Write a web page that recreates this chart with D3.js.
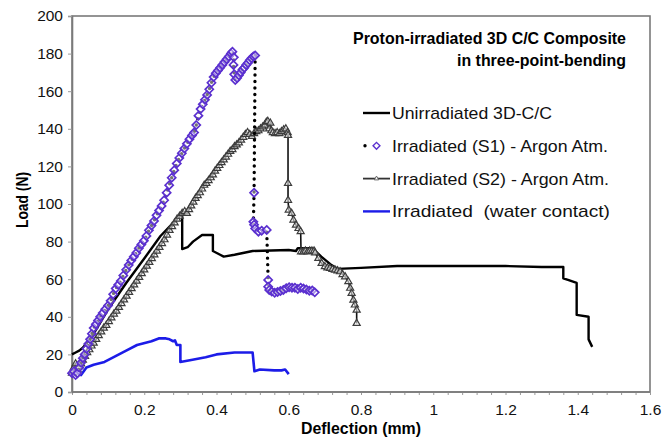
<!DOCTYPE html>
<html>
<head>
<meta charset="utf-8">
<script src="https://cdn.jsdelivr.net/npm/d3@7"></script>
<style>
  body { margin: 0; background: #fff; }
  text { font-family: "Liberation Sans", Arial, sans-serif; }
</style>
</head>
<body>
<div id="chart"></div>
<script>
// deflection (mm), load (N)
var unirradiated = [[0,20],[0.01,21],[0.02,22],[0.03,23.5],[0.045,27],[0.06,31],[0.1,44],[0.15,58],[0.2,71],[0.245,83],[0.28,90],[0.3,94],[0.305,96],
  [0.305,76],[0.32,77],[0.335,80],[0.36,83.5],[0.39,83.5],[0.39,75],[0.41,73],[0.42,72],[0.45,73],[0.5,75],[0.6,75.5],[0.62,75],[0.625,76.5],
  [0.665,76.5],[0.69,72],[0.715,68],[0.735,65.5],[0.8,66],[0.9,67],[1.0,67],[1.1,67],[1.2,67],[1.3,66.5],[1.36,66.5],[1.36,60.5],[1.375,59.5],
  [1.397,58],[1.397,41],[1.43,40],[1.43,28],[1.44,24]];

var irradiatedS1 = [[0,10],[0.005,11],[0.01,9],[0.015,10],[0.02,13],[0.025,15.5],[0.03,18],[0.035,20],[0.04,23],[0.045,25.5],[0.05,28],[0.055,31],
  [0.06,34],[0.066,36],[0.072,38],[0.078,40],[0.085,42],[0.092,44],[0.1,46],[0.107,48.5],[0.114,52],[0.121,55],[0.128,57],[0.135,59],[0.142,62],
  [0.15,65],[0.157,67.5],[0.164,70],[0.171,72],[0.178,74],[0.185,76.5],[0.192,78.5],[0.199,80.5],[0.206,83],[0.213,86],[0.22,88.5],[0.227,91],
  [0.234,94],[0.241,96.5],[0.248,99],[0.255,102],[0.262,106],[0.269,110],[0.276,114],[0.283,118],[0.29,121.5],[0.297,124.5],[0.304,127],
  [0.311,129.5],[0.318,132],[0.325,134.5],[0.332,136.5],[0.338,138],[0.344,142],[0.35,147],[0.356,150.5],[0.362,153],[0.368,155.5],[0.374,158],
  [0.38,161],[0.386,164.5],[0.392,167.5],[0.398,169.5],[0.404,171],[0.41,172.5],[0.416,174],[0.422,175.5],[0.428,177],[0.434,178.5],[0.44,180],
  [0.444,181],[0.448,178],[0.447,174],[0.449,169],[0.452,166],[0.457,167],[0.462,168.5],[0.467,170],[0.472,171.5],[0.477,172.5],[0.482,174],
  [0.487,175],[0.492,176.5],[0.497,177.5],[0.502,178.5],[0.507,179],[0.504,106],[0.502,90.5],[0.504,89],[0.507,87],[0.516,85.3],[0.525,85.8],
  [0.539,86.2],[0.543,59.6],[0.543,56],[0.546,54.3],[0.553,53.4],[0.561,52.8],[0.569,53.2],[0.577,53.7],[0.585,54.3],[0.593,55.2],[0.601,55.7],
  [0.609,55.5],[0.617,55.5],[0.625,54.8],[0.633,55.5],[0.641,55],[0.649,54.5],[0.657,53.9],[0.665,54],[0.672,53]];

var irradiatedS2 = [[0,10],[0.005,13],[0.01,15],[0.015,12],[0.02,13.5],[0.025,15],[0.03,17],[0.036,19],[0.042,21],[0.048,22.5],[0.054,24.5],
  [0.06,26],[0.067,28],[0.074,30],[0.081,32],[0.088,34],[0.095,35.5],[0.102,37.5],[0.109,39.5],[0.116,41.5],[0.123,43],[0.13,45],[0.137,47],
  [0.144,49],[0.151,51],[0.158,53],[0.165,55],[0.172,57],[0.179,59],[0.186,61],[0.193,63],[0.2,65],[0.207,67],[0.214,69],[0.221,71],[0.228,73],
  [0.235,75],[0.242,77],[0.249,79],[0.256,81],[0.263,83.5],[0.27,86],[0.277,88],[0.284,90],[0.291,92],[0.298,93.5],[0.305,95],[0.312,96],
  [0.318,95],[0.324,97],[0.33,99],[0.336,101],[0.342,103],[0.348,104.5],[0.354,106],[0.36,108],[0.366,110],[0.372,111],[0.378,112.5],[0.384,114],
  [0.39,115.5],[0.396,117.5],[0.402,119],[0.408,120.5],[0.414,122],[0.42,123.5],[0.426,125],[0.432,126.5],[0.438,128],[0.444,129],[0.45,130.5],
  [0.456,131.5],[0.462,132.5],[0.468,134],[0.474,135.5],[0.48,137],[0.486,138],[0.492,137],[0.498,136],[0.504,137.5],[0.51,138.5],[0.516,139],
  [0.522,140],[0.528,141],[0.534,142],[0.538,143.5],[0.542,144],[0.546,140],[0.549,143],[0.552,139],[0.556,138],[0.562,137.5],[0.568,138],
  [0.574,137.5],[0.58,138.5],[0.586,139.5],[0.592,140],[0.597,138],[0.598,136.5],[0.598,111],[0.598,102],[0.6,96.8],[0.608,95],[0.613,91.5],
  [0.62,88.8],[0.627,87],[0.633,85.3],[0.634,74.6],[0.64,74.5],[0.646,75],[0.652,74.5],[0.658,75],[0.664,75],[0.67,75],[0.673,74],[0.682,71.1],
  [0.691,68.4],[0.7,66.7],[0.707,66],[0.714,65.8],[0.721,65.3],[0.728,64.9],[0.735,64.5],[0.742,64],[0.749,62.5],[0.756,61.3],[0.765,58.7],
  [0.77,55.2],[0.774,52.5],[0.779,48.9],[0.783,46.3],[0.788,43.6],[0.788,36.5]];

var waterContact = [[0,11],[0.01,10],[0.025,9],[0.04,13],[0.06,14.5],[0.09,16],[0.13,20],[0.15,22],[0.18,25],[0.22,27],[0.24,28.5],[0.26,28.5],
  [0.27,28],[0.28,27],[0.285,27.5],[0.29,25],[0.3,25],[0.3,16],[0.33,17],[0.37,18.5],[0.4,20],[0.45,21],[0.5,21],[0.505,11],[0.52,12],
  [0.56,11.5],[0.58,11.5],[0.59,12],[0.6,9.5]];

var xTicks = [0, 0.2, 0.4, 0.6, 0.8, 1, 1.2, 1.4, 1.6];
var yTicks = [0, 20, 40, 60, 80, 100, 120, 140, 160, 180, 200];
var legendLabels = ["Unirradiated 3D-C/C", "Irradiated (S1) - Argon Atm.", "Irradiated (S2) - Argon Atm.", "Irradiated  (water contact)"];
var titleLines = ["Proton-irradiated 3D C/C Composite", "in three-point-bending"];

var width = 672, height = 443;
var svg = d3.select("#chart").append("svg")
    .attr("width", width)
    .attr("height", height);

var x = d3.scaleLinear().domain([0, 1.6]).range([72, 650]);
var y = d3.scaleLinear().domain([0, 200]).range([392, 16]);

// plot frame
svg.append("rect")
    .attr("x", x(0)).attr("y", y(200))
    .attr("width", x(1.6) - x(0)).attr("height", y(0) - y(200))
    .attr("fill", "none").attr("stroke", "#7a7a7a").attr("stroke-width", 1.6);

// minor ticks on x axis
var xAxis = svg.append("g")
    .attr("transform", "translate(0," + y(0) + ")")
    .call(d3.axisBottom(x).tickValues(d3.range(0, 41).map(function(i) { return i * 0.04; })).tickSize(3).tickFormat(""));
xAxis.select(".domain").remove();
xAxis.selectAll(".tick line").attr("stroke", "#9a9a9a");

var xLabels = svg.append("g")
    .attr("transform", "translate(0," + y(0) + ")")
    .call(d3.axisBottom(x).tickValues(xTicks).tickSize(0).tickPadding(12).tickFormat(function(d) { return String(d); }));
xLabels.select(".domain").remove();
xLabels.selectAll("text").style("font-size", "15.5px").style("font-family", "Liberation Sans, Arial, sans-serif").attr("fill", "#111");

var yAxis = svg.append("g")
    .attr("transform", "translate(" + x(0) + ",0)")
    .call(d3.axisLeft(y).tickValues(yTicks).tickSize(4).tickPadding(5));
yAxis.select(".domain").attr("stroke", "#7a7a7a").attr("stroke-width", 1.6);
yAxis.selectAll(".tick line").attr("stroke", "#9a9a9a");
yAxis.selectAll("text").style("font-size", "15.5px").style("font-family", "Liberation Sans, Arial, sans-serif").attr("fill", "#111");

svg.append("line")
    .attr("x1", x(0)).attr("x2", x(1.6)).attr("y1", y(0)).attr("y2", y(0))
    .attr("stroke", "#7a7a7a").attr("stroke-width", 1.6);

// axis titles
svg.append("text")
    .attr("x", (x(0) + x(1.6)) / 2).attr("y", 434)
    .attr("text-anchor", "middle")
    .attr("textLength", 120).attr("lengthAdjust", "spacingAndGlyphs")
    .style("font-size", "17px").style("font-weight", "bold")
    .text("Deflection (mm)");

svg.append("text")
    .attr("transform", "translate(28,200) rotate(-90)")
    .attr("text-anchor", "middle")
    .attr("textLength", 56).attr("lengthAdjust", "spacingAndGlyphs")
    .style("font-size", "17px").style("font-weight", "bold")
    .text("Load (N)");

var line = d3.line()
    .x(function(d) { return x(d[0]); })
    .y(function(d) { return y(d[1]); });

var purple = "#5b30cf", blue = "#1c1ce8";

// water contact
svg.append("path").datum(waterContact)
    .attr("d", line).attr("fill", "none")
    .attr("stroke", blue).attr("stroke-width", 2.6).attr("stroke-linejoin", "round");

// unirradiated
svg.append("path").datum(unirradiated)
    .attr("d", line).attr("fill", "none")
    .attr("stroke", "#000").attr("stroke-width", 2.4).attr("stroke-linejoin", "round");

// S2
svg.append("path").datum(irradiatedS2)
    .attr("d", line).attr("fill", "none")
    .attr("stroke", "#111").attr("stroke-width", 1.6);
svg.selectAll(".tri").data(irradiatedS2).enter().append("path")
    .attr("class", "tri")
    .attr("transform", function(d) { return "translate(" + x(d[0]) + "," + y(d[1]) + ")"; })
    .attr("d", d3.symbol().type(d3.symbolTriangle2).size(36))
    .attr("fill", "#fff").attr("fill-opacity", 0.55).attr("stroke", "#3c3c3c").attr("stroke-width", 1.2);

// S1
svg.append("path").datum(irradiatedS1)
    .attr("d", line).attr("fill", "none")
    .attr("stroke", "#000").attr("stroke-width", 3.4)
    .attr("stroke-linecap", "round").attr("stroke-dasharray", "0,6.5");
svg.selectAll(".dia").data(irradiatedS1).enter().append("path")
    .attr("class", "dia")
    .attr("transform", function(d) { return "translate(" + x(d[0]) + "," + y(d[1]) + ")"; })
    .attr("d", d3.symbol().type(d3.symbolDiamond2).size(42))
    .attr("fill", "#fff").attr("fill-opacity", 0.45).attr("stroke", purple).attr("stroke-width", 1.7);

// title
svg.selectAll(".title").data(titleLines).enter().append("text")
    .attr("x", 626).attr("y", function(d, i) { return 44 + i * 22; })
    .attr("text-anchor", "end")
    .attr("textLength", function(d, i) { return i === 0 ? 273 : 169; })
    .attr("lengthAdjust", "spacingAndGlyphs")
    .style("font-size", "17px").style("font-weight", "bold")
    .text(function(d) { return d; });

// legend
var legend = svg.append("g");
var ly = function(i) { return 113 + i * 32.8; };
legend.selectAll("text").data(legendLabels).enter().append("text")
    .attr("x", 392).attr("y", function(d, i) { return ly(i) + 6; })
    .attr("textLength", function(d, i) { return [160, 216, 217, 218][i]; })
    .attr("lengthAdjust", "spacingAndGlyphs")
    .style("white-space", "pre")
    .style("font-size", "17px").attr("fill", "#111")
    .text(function(d) { return d; });

legend.append("line").attr("x1", 363).attr("x2", 390).attr("y1", ly(0)).attr("y2", ly(0))
    .attr("stroke", "#000").attr("stroke-width", 2.4);
legend.append("line").attr("x1", 365).attr("x2", 388).attr("y1", ly(1)).attr("y2", ly(1))
    .attr("stroke", "#000").attr("stroke-width", 3.4)
    .attr("stroke-linecap", "round").attr("stroke-dasharray", "0,11.5");
legend.append("path").attr("transform", "translate(376.5," + ly(1) + ")")
    .attr("d", d3.symbol().type(d3.symbolDiamond2).size(30))
    .attr("fill", "#fff").attr("stroke", purple).attr("stroke-width", 1.4);
legend.append("line").attr("x1", 363).attr("x2", 390).attr("y1", ly(2)).attr("y2", ly(2))
    .attr("stroke", "#333").attr("stroke-width", 1.8);
legend.append("path").attr("transform", "translate(376.5," + ly(2) + ")")
    .attr("d", d3.symbol().type(d3.symbolTriangle2).size(14))
    .attr("fill", "#fff").attr("stroke", "#666").attr("stroke-width", 1);
legend.append("line").attr("x1", 363).attr("x2", 390).attr("y1", ly(3)).attr("y2", ly(3))
    .attr("stroke", blue).attr("stroke-width", 2.4);
</script>
</body>
</html>
